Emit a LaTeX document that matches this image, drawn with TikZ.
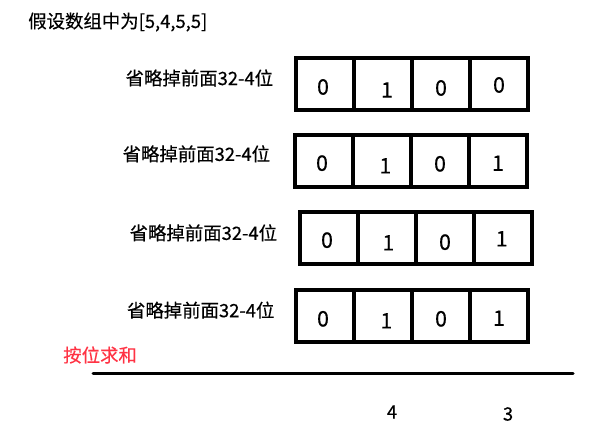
\documentclass[tikz,border=0pt]{standalone}
\usepackage{fontspec}
\setmainfont{Noto Sans CJK SC}[RawFeature={embolden=0.4}]
\usepackage{tikz}
\usetikzlibrary{positioning}
\definecolor{SumRed}{RGB}{255,51,68}
\tikzset{BitBox/.style={draw, line width=3pt, outer sep=0pt, inner sep=0pt,
    minimum width=43.5pt, minimum height=39pt}}
\tikzset{Bit/.style={font=\fontsize{16}{19}\selectfont, inner sep=0pt}}
\tikzset{W/.style={font=\fontsize{13.8}{16}\selectfont, inner sep=0pt}}
\newcommand{\Cell}[4]{
    \node[BitBox, #4, label={[Bit, #3]center:#2}] (#1) {};
}
\newcommand{\Skip}{省略掉前面32-4位}

\begin{document}
\begin{tikzpicture}[x=0.75pt, y=-0.75pt]
    \useasboundingbox (0,0) rectangle (598,429);

    \node[W, anchor=west] (title) at (28,22) {假设数组中为[5,4,5,5]};

    %% Row 1: 4
    \Cell{r1a}{0}{xshift=-1.5pt, yshift=-2.25pt}{at={(325,84)}}
    \Cell{r1b}{1}{xshift=3pt, yshift=-4.5pt}{right=0pt of r1a}
    \Cell{r1c}{0}{yshift=-3pt}{right=0pt of r1b}
    \Cell{r1d}{0}{yshift=-0.75pt}{right=0pt of r1c}
    \node[W, anchor=east, left=17pt of r1a.west, yshift=4.5pt] (s1) {\Skip};

    %% Row 2: 5
    \Cell{r2a}{0}{xshift=-1.5pt, yshift=-2pt}{at={(324,160.5)}}
    \Cell{r2b}{1}{xshift=2.5pt, yshift=-4pt}{right=0pt of r2a}
    \Cell{r2c}{0}{yshift=-2.5pt}{right=0pt of r2b}
    \Cell{r2d}{1}{yshift=-2pt}{right=0pt of r2c}
    \node[W, anchor=east, left=18.5pt of r2a.west, yshift=5pt] (s2) {\Skip};

    %% Row 3: 5
    \Cell{r3a}{0}{xshift=-1.5pt, yshift=-2pt}{at={(329,237.5)}}
    \Cell{r3b}{1}{xshift=1pt, yshift=-4pt}{right=0pt of r3a}
    \Cell{r3c}{0}{yshift=-3.5pt}{right=0pt of r3b}
    \Cell{r3d}{1}{xshift=-1pt, yshift=-1pt}{right=0pt of r3c}
    \node[W, anchor=east, left=17pt of r3a.west, yshift=3.5pt] (s3) {\Skip};

    %% Row 4: 5
    \Cell{r4a}{0}{xshift=-1.5pt, yshift=-2.5pt}{at={(325,315.5)}}
    \Cell{r4b}{1}{xshift=2.5pt, yshift=-4pt}{right=0pt of r4a}
    \Cell{r4c}{0}{yshift=-2.5pt}{right=0pt of r4b}
    \Cell{r4d}{1}{yshift=-2pt}{right=0pt of r4c}
    \node[W, anchor=east, left=16pt of r4a.west, yshift=4pt] (s4) {\Skip};

    %% Sum
    \node[W, anchor=west, text=SumRed] (sum) at (63,355) {按位求和};
    \coordinate (sumL) at (93,373);
    \coordinate (sumR) at (573,373);
    \draw[line width=2.25pt, line cap=round] (sumL) -- (sumR);

    \node[W] (res4) at (392,412) {4};
    \node[W] (res3) at (508,414) {3};

\end{tikzpicture}
\end{document}
